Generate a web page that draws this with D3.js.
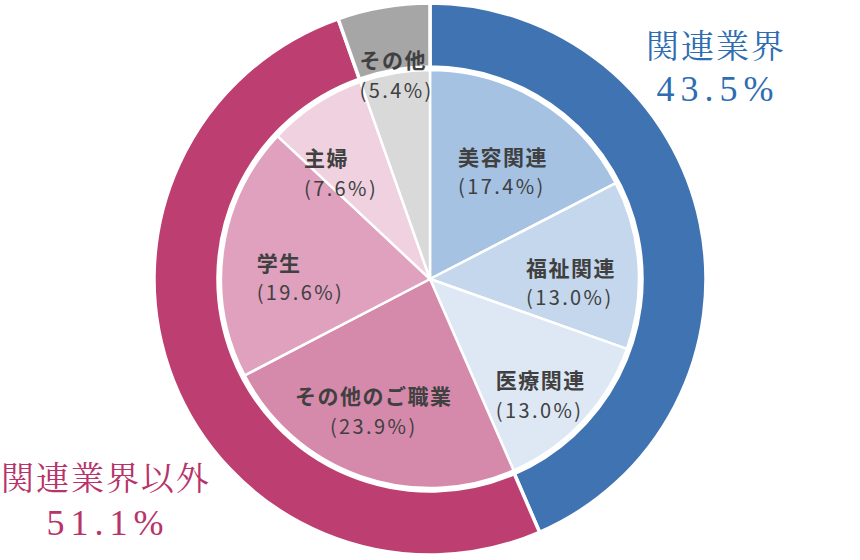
<!DOCTYPE html>
<html><head><meta charset="utf-8">
<script src="https://cdn.jsdelivr.net/npm/d3@7"></script>
<style>body{margin:0;background:#fff}</style>
</head><body>
<svg id="c" width="860" height="560"></svg>
<script>
// Outer ring (groups)
const outerNames = ["関連業界", "関連業界以外", "その他"];
const outerValues = [43.5, 51.1, 5.4];
const outerColors = ["#3f73b1", "#bd3e70", "#a6a6a6"];
// Inner pie (details)
const innerNames = ["美容関連", "福祉関連", "医療関連", "その他のご職業", "学生", "主婦", "その他"];
const innerValues = [17.4, 13.0, 13.0, 23.9, 19.6, 7.6, 5.4];
const innerColors = ["#a5c2e3", "#c4d7ed", "#dde8f4", "#d68aab", "#dfa1be", "#efd1df", "#d9d9d9"];
const innerPct = ["(17.4%)", "(13.0%)", "(13.0%)", "(23.9%)", "(19.6%)", "(7.6%)", "(5.4%)"];

const svg = d3.select("#c");
const cx = 430, cy = 279;
const R_OUT = 276, R_RING_IN = 212, R_PIE = 209;
const g = svg.append("g").attr("transform", `translate(${cx},${cy})`);

const pie = d3.pie().sort(null).value(d => d);
const outerArc = d3.arc().innerRadius(R_RING_IN).outerRadius(R_OUT);
const innerArc = d3.arc().innerRadius(0).outerRadius(R_PIE);

g.selectAll("path.o").data(pie(outerValues)).enter().append("path")
  .attr("class", "o").attr("d", outerArc)
  .attr("fill", (d, i) => outerColors[i]).attr("stroke", "#fff").attr("stroke-width", 3.5);

const inArcs = pie(innerValues);
g.selectAll("path.i").data(inArcs).enter().append("path")
  .attr("class", "i").attr("d", innerArc)
  .attr("fill", (d, i) => innerColors[i]).attr("stroke", "#fff").attr("stroke-width", 2.5);

// inner label placement (layout only): radius factor and angular nudge (deg)
const labelLayout = [[0.62, 3], [0.675, 5.6], [0.77, 3.5], [0.69, 3.5], [0.62, -7.6], [0.66, -7], [0.985, 0.4]];
inArcs.forEach((d, i) => {
  const a = (d.startAngle + d.endAngle) / 2 + labelLayout[i][1] * Math.PI / 180;
  const r = R_PIE * labelLayout[i][0];
  const x = Math.sin(a) * r, y = -Math.cos(a) * r;
  const grp = g.append("g");
  const t1 = grp.append("text").attr("y", y - 15 + 7.5)
    .attr("font-family", "'Noto Sans CJK JP', sans-serif").attr("fill", "#404040")
    .attr("font-size", 21).attr("font-weight", "bold").attr("letter-spacing", 1.5).text(innerNames[i]);
  const t2 = grp.append("text").attr("y", y + 15 + 7)
    .attr("font-family", "'Noto Sans CJK JP', sans-serif").attr("fill", "#404040")
    .attr("font-size", 20).attr("letter-spacing", 2.4).text(innerPct[i]);
  const w1 = t1.node().getComputedTextLength(), w2 = t2.node().getComputedTextLength();
  if (w1 > w2 + 20) {
    t1.attr("x", x - w1 / 2); t2.attr("x", x - w2 / 2);
  } else {
    const w = Math.max(w1, w2);
    t1.attr("x", x - w / 2); t2.attr("x", x - w / 2);
  }
});

// outer labels
const outerLabelPos = [{x: 715, y1: 58, y2: 101}, {x: 105, y1: 490, y2: 535}];
[0, 1].forEach(i => {
  const p = outerLabelPos[i];
  const col = i === 0 ? "#2f6db3" : "#b8336a";
  svg.append("text").attr("text-anchor", "middle").attr("fill", col)
    .attr("font-family", "'Noto Serif CJK JP', 'DejaVu Serif', serif")
    .attr("x", p.x + 1).attr("y", p.y1).attr("font-size", 33).attr("letter-spacing", 2).text(outerNames[i]);
  svg.append("text").attr("text-anchor", "middle").attr("fill", col)
    .attr("font-family", "'Liberation Serif', serif")
    .attr("x", p.x + 3).attr("y", p.y2).attr("font-size", 36).attr("letter-spacing", 6)
    .text(d3.format(".1f")(outerValues[i]) + "%");
});
</script>
</body></html>
